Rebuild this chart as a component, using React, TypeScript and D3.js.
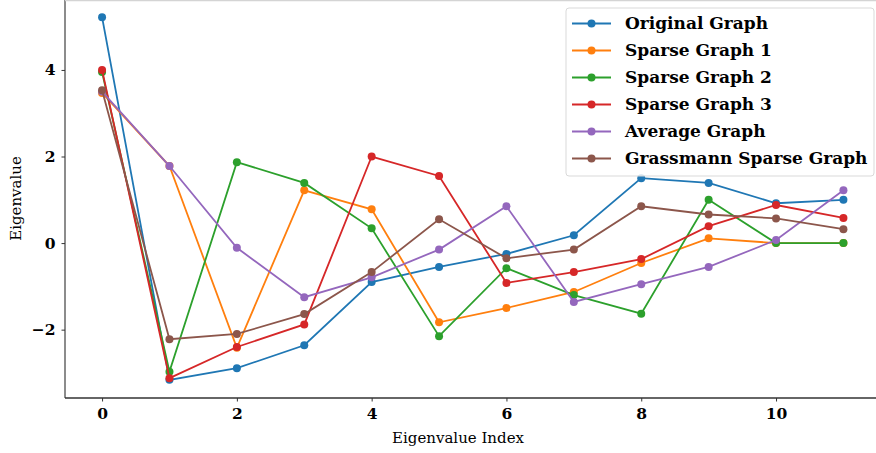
import React, { useRef, useEffect } from "react";
import * as d3 from "d3";

// eigenvalue index (x) and the six series
const indices = [0, 1, 2, 3, 4, 5, 6, 7, 8, 9, 10, 11];
const originalGraph = [5.22, -3.16, -2.89, -2.36, -0.9, -0.55, -0.25, 0.18, 1.5, 1.39, 0.92, 1.0];
const sparseGraph1 = [3.47, 1.78, -2.42, 1.22, 0.78, -1.83, -1.5, -1.13, -0.46, 0.11, 0.0, 0.0];
const sparseGraph2 = [3.95, -2.97, 1.87, 1.39, 0.34, -2.15, -0.58, -1.2, -1.63, 1.0, 0.0, 0.0];
const sparseGraph3 = [4.0, -3.12, -2.4, -1.88, 2.0, 1.55, -0.92, -0.67, -0.37, 0.39, 0.88, 0.58];
const averageGraph = [3.5, 1.78, -0.11, -1.25, -0.79, -0.15, 0.85, -1.36, -0.95, -0.55, 0.07, 1.22];
const grassmannGraph = [3.53, -2.22, -2.1, -1.64, -0.67, 0.55, -0.35, -0.15, 0.85, 0.66, 0.57, 0.32];

const seriesNames = [
  "Original Graph",
  "Sparse Graph 1",
  "Sparse Graph 2",
  "Sparse Graph 3",
  "Average Graph",
  "Grassmann Sparse Graph",
];
const seriesValues = [originalGraph, sparseGraph1, sparseGraph2, sparseGraph3, averageGraph, grassmannGraph];
const colors = ["#1f77b4", "#ff7f0e", "#2ca02c", "#d62728", "#9467bd", "#8c564b"];
const xTicks = [0, 2, 4, 6, 8, 10];
const yTicks = [-2, 0, 2, 4];

const App = () => {
  const container = useRef<SVGSVGElement>(null);

  const width = 876;
  const height = 453;
  // plot box (right/top edges fall just outside the picture, as in the reference)
  const left = 65;
  const right = 880.5;
  const top = -1;
  const bottom = 398;
  const serif = "'DejaVu Serif', serif";

  useEffect(() => {
    const svg = d3.select(container.current);
    svg.selectAll("*").remove();

    // matplotlib-like 5% margins
    const xMin = d3.min(indices)!;
    const xMax = d3.max(indices)!;
    const xPad = (xMax - xMin) * 0.05;
    const allVals = seriesValues.flat();
    const yMin = d3.min(allVals)!;
    const yMax = d3.max(allVals)!;
    const yPad = (yMax - yMin) * 0.05;

    const xScale = d3.scaleLinear().domain([xMin - xPad, xMax + xPad]).range([left, right]);
    const yScale = d3.scaleLinear().domain([yMin - yPad, yMax + yPad]).range([bottom, top]);

    // lines + markers
    const line = d3
      .line<number>()
      .x((d, i) => xScale(indices[i]))
      .y((d) => yScale(d));

    seriesValues.forEach((vals, k) => {
      const g = svg.append("g");
      g.append("path")
        .attr("d", line(vals))
        .attr("fill", "none")
        .attr("stroke", colors[k])
        .attr("stroke-width", 1.8);
      g.selectAll("circle")
        .data(vals)
        .enter()
        .append("circle")
        .attr("cx", (d, i) => xScale(indices[i]))
        .attr("cy", (d) => yScale(d))
        .attr("r", 4)
        .attr("fill", colors[k]);
    });

    // spines
    svg
      .append("line")
      .attr("x1", left)
      .attr("x2", left)
      .attr("y1", 0)
      .attr("y2", bottom)
      .attr("stroke", "#666")
      .attr("stroke-width", 1.5);
    svg
      .append("line")
      .attr("x1", left)
      .attr("x2", width)
      .attr("y1", bottom)
      .attr("y2", bottom)
      .attr("stroke", "#333")
      .attr("stroke-width", 1.5);
    svg
      .append("line")
      .attr("x1", left)
      .attr("x2", width)
      .attr("y1", 0.5)
      .attr("y2", 0.5)
      .attr("stroke", "#d4d4d4")
      .attr("stroke-width", 1.5);

    // x axis
    const xAxis = svg
      .append("g")
      .attr("transform", `translate(0, ${bottom})`)
      .call(d3.axisBottom(xScale).tickValues(xTicks).tickSize(3.5).tickPadding(6).tickFormat(d3.format("d")));
    xAxis.select(".domain").remove();
    xAxis.selectAll("line").attr("stroke", "#333");
    xAxis
      .selectAll("text")
      .attr("fill", "#000")
      .style("font-family", serif)
      .style("font-size", "15.5px")
      .style("font-weight", "bold");

    // y axis
    const yAxis = svg
      .append("g")
      .attr("transform", `translate(${left}, 0)`)
      .call(d3.axisLeft(yScale).tickValues(yTicks).tickSize(3.5).tickPadding(6).tickFormat((d) => d3.format("d")(d as number).replace("-", "\u2212")));
    yAxis.select(".domain").remove();
    yAxis.selectAll("line").attr("stroke", "#333");
    yAxis
      .selectAll("text")
      .attr("fill", "#000")
      .style("font-family", serif)
      .style("font-size", "15.5px")
      .style("font-weight", "bold");

    // axis labels
    svg
      .append("text")
      .attr("x", 458)
      .attr("y", 443)
      .attr("text-anchor", "middle")
      .style("font-family", serif)
      .style("font-size", "15px")
      .text("Eigenvalue Index");

    svg
      .append("text")
      .attr("transform", `translate(21, ${(top + bottom) / 2}) rotate(-90)`)
      .attr("text-anchor", "middle")
      .style("font-family", serif)
      .style("font-size", "15px")
      .text("Eigenvalue");

    // legend
    const legend = svg.append("g").attr("transform", "translate(566, 8)");
    legend
      .append("rect")
      .attr("x", 0)
      .attr("y", 0)
      .attr("width", 308)
      .attr("height", 168)
      .attr("rx", 3)
      .attr("fill", "white")
      .attr("fill-opacity", 0.8)
      .attr("stroke", "#d9d9d9");

    const rows = legend
      .selectAll(".row")
      .data(seriesNames)
      .enter()
      .append("g")
      .attr("transform", (d, i) => `translate(0, ${15.5 + i * 27})`);

    rows
      .append("line")
      .attr("x1", 6)
      .attr("x2", 45)
      .attr("stroke", (d, i) => colors[i])
      .attr("stroke-width", 1.8);
    rows
      .append("circle")
      .attr("cx", 25.5)
      .attr("r", 4)
      .attr("fill", (d, i) => colors[i]);
    rows
      .append("text")
      .attr("x", 59)
      .attr("dy", "0.35em")
      .style("font-family", serif)
      .style("font-size", "17px")
      .style("font-weight", "bold")
      .text((d) => d);
  }, []);

  return (
    <svg
      ref={container}
      width={width}
      height={height}
      style={{ position: "absolute", left: 0, top: 0, background: "white" }}
    />
  );
};

export default App;
